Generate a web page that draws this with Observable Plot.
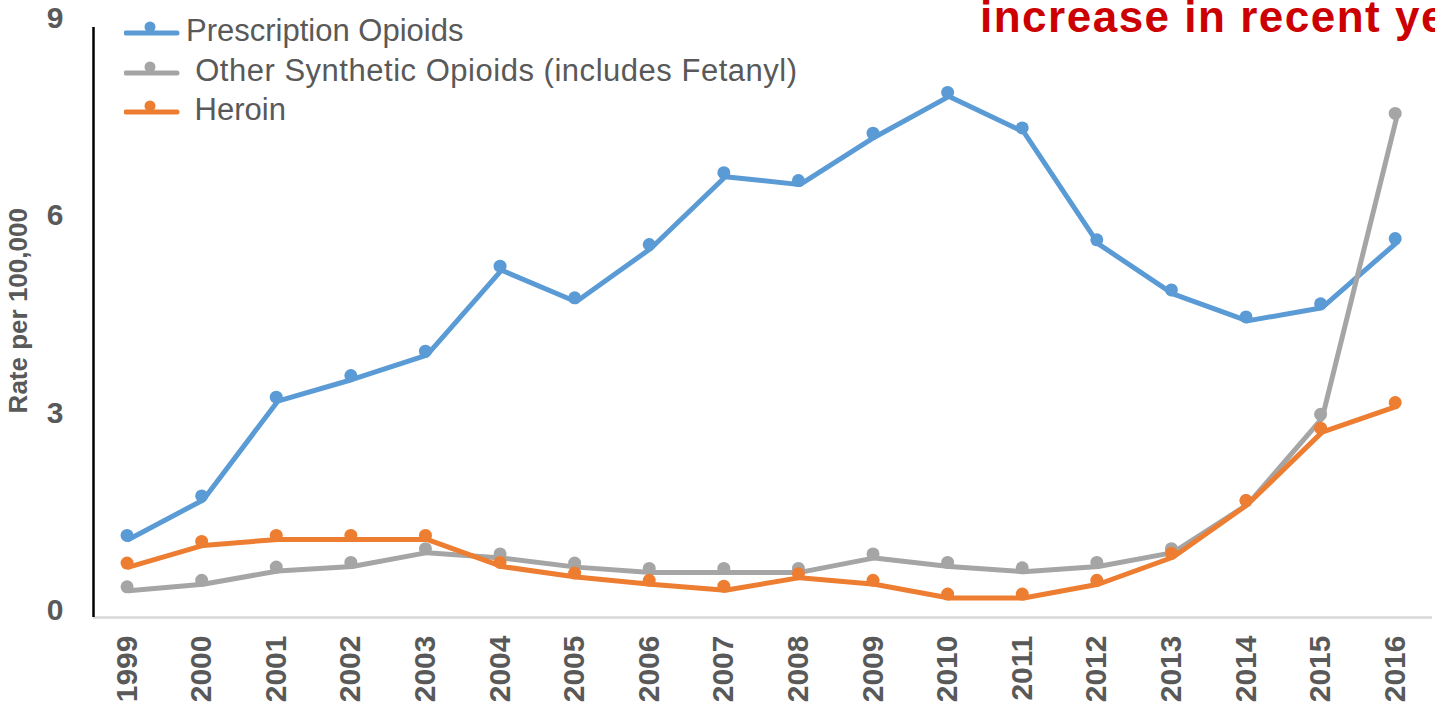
<!DOCTYPE html>
<html>
<head>
<meta charset="utf-8">
<script src="https://cdn.jsdelivr.net/npm/d3@7"></script>
<script src="https://cdn.jsdelivr.net/npm/@observablehq/plot@0.6"></script>
<style>
  html, body { margin: 0; padding: 0; background: #fff; overflow: hidden; }
  body { position: relative; width: 1435px; height: 708px; font-family: "Liberation Sans", Arial, sans-serif; }
  #chart svg { display: block; }
  #title { position: absolute; left: 980px; top: -5.5px; font-size: 44px; line-height: 44px; font-weight: bold; color: #cc0000; white-space: nowrap; letter-spacing: 1.5px; }
  #legend { position: absolute; left: 124px; top: 11.4px; }
  .row { height: 39.2px; line-height: 39.2px; font-size: 31px; color: #595959; white-space: pre; display: flex; align-items: flex-start; }
  .row svg { flex: none; }
  .row.wide span { letter-spacing: 0.52px; }
</style>
</head>
<body>
<div id="chart"></div>
<div id="title"></div>
<div id="legend"></div>
<script>
const years = [1999, 2000, 2001, 2002, 2003, 2004, 2005, 2006, 2007, 2008, 2009, 2010, 2011, 2012, 2013, 2014, 2015, 2016];
const seriesNames = ["Prescription Opioids", "Other Synthetic Opioids (includes Fetanyl)", "Heroin"];
const legendLabels = ["Prescription Opioids", " Other Synthetic Opioids (includes Fetanyl)", " Heroin"];
const prescription = [1.14, 1.74, 3.24, 3.57, 3.94, 5.23, 4.75, 5.56, 6.65, 6.53, 7.25, 7.87, 7.33, 5.63, 4.87, 4.46, 4.66, 5.65];
const synthetic = [0.36, 0.46, 0.66, 0.73, 0.94, 0.86, 0.72, 0.64, 0.64, 0.64, 0.86, 0.73, 0.65, 0.73, 0.94, 1.67, 2.98, 7.55];
const heroin = [0.72, 1.05, 1.14, 1.14, 1.14, 0.73, 0.57, 0.46, 0.37, 0.56, 0.46, 0.25, 0.25, 0.46, 0.87, 1.67, 2.77, 3.16];
const seriesColors = ["#5b9bd5", "#a5a5a5", "#ed7d31"];
const yTicks = [0, 3, 6, 9];
const yLabel = "Rate per 100,000";
const titleText = "increase in recent years";

const seriesValues = [prescription, synthetic, heroin];
const rows = seriesNames.flatMap((s, i) => years.map((yr, j) => ({series: s, year: yr, value: seriesValues[i][j]})));

const yMin = -0.106, yMax = 9, yAxisTop = 8.855;
const xMin = 1998.55, xMax = 2016.5;
const font = "'Liberation Sans', Arial, sans-serif";

const chart = Plot.plot({
  width: 1435,
  height: 708,
  marginLeft: 93,
  marginRight: 3,
  marginTop: 17.5,
  marginBottom: 91,
  style: {fontFamily: font, background: "white", overflow: "visible"},
  x: {type: "linear", domain: [xMin, xMax]},
  y: {domain: [yMin, yMax]},
  color: {domain: seriesNames, range: seriesColors},
  marks: [
    Plot.ruleY([yMin], {stroke: "#d9d9d9", strokeWidth: 2.5}),
    Plot.ruleX([xMin], {y1: yAxisTop, y2: yMin, stroke: "black", strokeWidth: 2.5}),
    Plot.axisY({ticks: yTicks, tickSize: 0, tickPadding: 30, fontSize: 30, fontWeight: "bold", fill: "#595959", label: null}),
    Plot.axisX({ticks: years, tickFormat: d => String(d), tickRotate: -90, tickSize: 0, tickPadding: 18, fontSize: 30, fontWeight: "bold", fill: "#595959", label: null}),
    Plot.lineY(rows, {x: "year", y: "value", z: "series", stroke: "series", strokeWidth: 5, dx: 1.5, dy: 4}),
    Plot.dot(rows, {x: "year", y: "value", fill: "series", r: 6.5}),
    Plot.text([yLabel], {text: d => d, frameAnchor: "left", textAnchor: "middle", rotate: -90, dx: -75, dy: -7, fontSize: 26, fontWeight: "bold", fill: "#595959"})
  ]
});
document.getElementById("chart").appendChild(chart);

document.getElementById("title").textContent = titleText;

const legend = document.getElementById("legend");
seriesNames.forEach((s, i) => {
  const row = document.createElement("div");
  row.className = i === 1 ? "row wide" : "row";
  const c = seriesColors[i];
  row.innerHTML = `<svg width="62" height="39" viewBox="0 0 62 39"><line x1="2" x2="53" y1="22" y2="22" stroke="${c}" stroke-width="5" stroke-linecap="round"/><circle cx="26" cy="16" r="5.5" fill="${c}"/></svg>`;
  const span = document.createElement("span");
  span.textContent = legendLabels[i];
  row.appendChild(span);
  legend.appendChild(row);
});
</script>
</body>
</html>
